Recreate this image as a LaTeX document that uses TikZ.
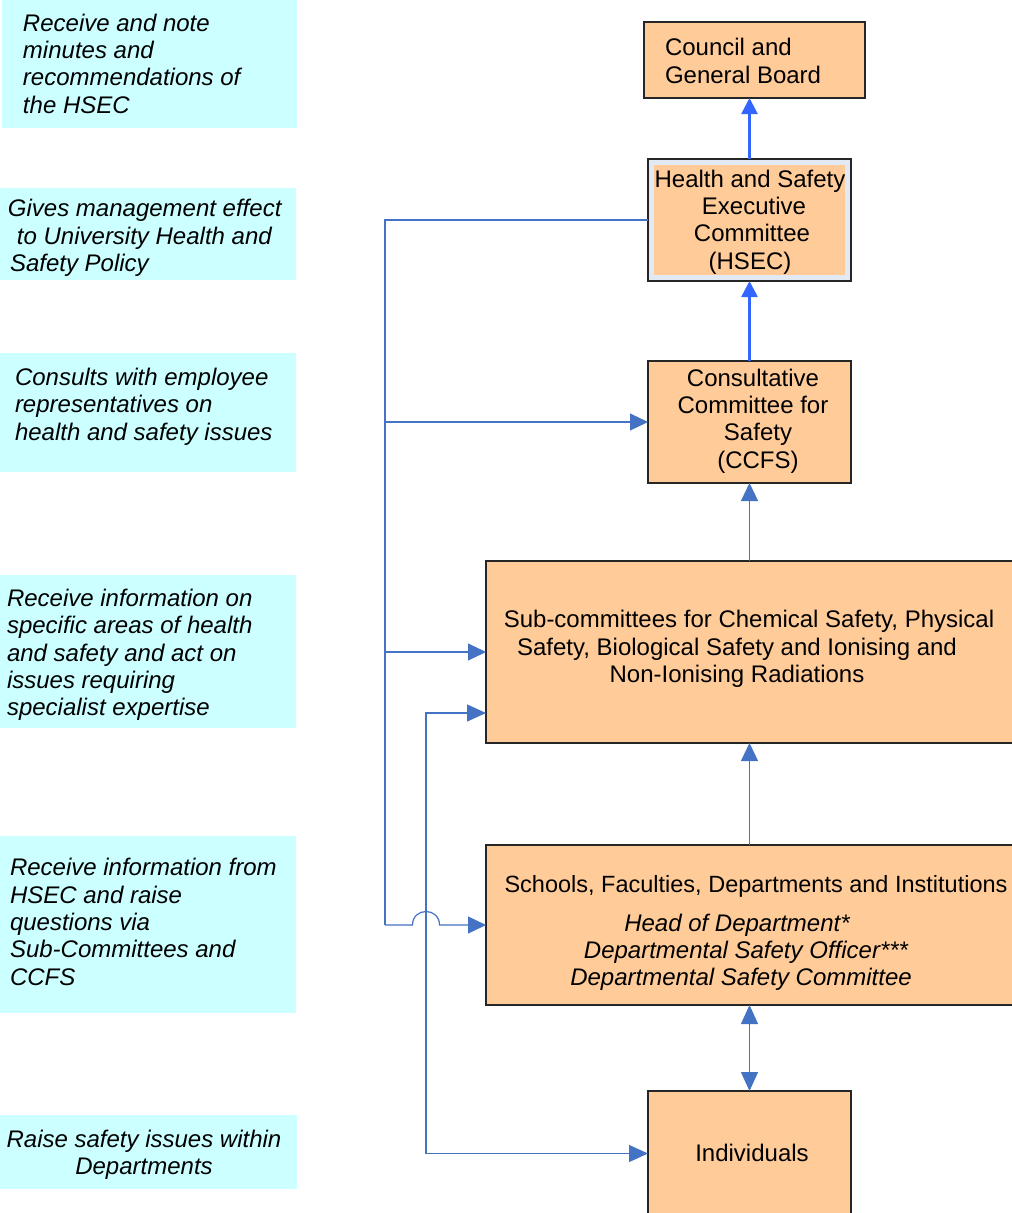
\documentclass[tikz,border=0pt]{standalone}
\usepackage{fontspec}
\setmainfont{Liberation Sans}
\usetikzlibrary{arrows.meta}
\definecolor{orangebox}{HTML}{FFCC99}
\definecolor{cyanbox}{HTML}{CCFFFF}
\definecolor{thickblue}{HTML}{3366FF}
\definecolor{thinblue}{HTML}{4472C4}
\definecolor{framegray}{HTML}{E3E9F3}
\begin{document}
\begin{tikzpicture}[x=1pt,y=-1pt,
  every node/.style={inner sep=0pt, outer sep=0pt},
  cbox/.style={fill=cyanbox, draw=none},
  obox/.style={fill=orangebox, draw=black!85, line width=1.1pt},
  note/.style={font=\fontsize{24}{27.3}\selectfont\itshape, align=left, anchor=west},
  otext/.style={font=\fontsize{24}{27.3}\selectfont, align=center},
  thickarrow/.style={draw=thickblue, line width=2.6pt, -{Triangle[length=16pt,width=16pt]}},
  thinarrow/.style={draw=thinblue, line width=1.2pt, -{Triangle[length=18pt,width=17pt]}},
  thinboth/.style={draw=thinblue, line width=1.2pt, {Triangle[length=19pt,width=17pt]}-{Triangle[length=19pt,width=17pt]}},
  busline/.style={draw=thinblue, line width=1.2pt}]
\useasboundingbox (0,0) rectangle (1012,1213);

% left note boxes
\node[cbox, minimum width=295pt, minimum height=128pt] (n1) at (149.5,64) {};
\node[cbox, minimum width=296pt, minimum height=92pt] (n2) at (148,234) {};
\node[cbox, minimum width=296pt, minimum height=119pt] (n3) at (148,412.5) {};
\node[cbox, minimum width=296pt, minimum height=153pt] (n4) at (148,651.5) {};
\node[cbox, minimum width=296pt, minimum height=177pt] (n5) at (148,924.5) {};
\node[cbox, minimum width=297pt, minimum height=74pt] (n6) at (148.5,1152) {};

\node[note] (t1) at (23,63.5) {Receive and note\\minutes and\\recommendations of\\the HSEC};
\node[note] (t2) at (8,238) {Gives management effect\\\hspace*{9pt}to University Health and\\\hspace*{2pt}Safety Policy};
\node[note] (t3) at (15,406.5) {Consults with employee\\representatives on\\health and safety issues};
\node[note] (t4) at (7,655) {Receive information on\\specific areas of health\\and safety and act on\\issues requiring\\specialist expertise};
\node[note] (t5) at (10,922) {Receive information from\\HSEC and raise\\questions via\\Sub-Committees and\\CCFS};
\node[note, anchor=center, align=center] (t6) at (144,1155) {Raise safety issues within\\Departments};

% right boxes
\node[obox, minimum width=221pt, minimum height=76pt] (council) at (754.5,60) {};
\node[fill=framegray, draw=black!85, line width=1.1pt, minimum width=203pt, minimum height=122pt] (hsec) at (749.5,220) {};
\node[fill=orangebox, minimum width=191pt, minimum height=110pt] (hsecin) at (749.5,220) {};
\node[obox, minimum width=203pt, minimum height=122pt] (ccfs) at (749.5,422) {};
\node[obox, minimum width=528pt, minimum height=182pt] (sub) at (750,652) {};
\node[obox, minimum width=528pt, minimum height=160pt] (schools) at (750,925) {};
\node[obox, minimum width=203pt, minimum height=125pt] (ind) at (749.5,1153.5) {};

\node[otext, anchor=west, align=left] (tcouncil) at (665,61) {Council and\\General Board};
\node[otext] (thsec) at (750,222) {Health and Safety\\\hspace*{8pt}Executive\\\hspace*{4pt}Committee\\(HSEC)};
\node[otext] (tccfs) at (753,421) {Consultative\\Committee for\\\hspace*{10pt}Safety\\\hspace*{10pt}(CCFS)};
\node[otext] (tsub) at (749,649) {Sub-committees for Chemical Safety, Physical\\Safety, Biological Safety and Ionising and\rule{24pt}{0pt}\\Non-Ionising Radiations\rule{24pt}{0pt}};
\node[otext] (tschools) at (756,933) {{\fontsize{23.5}{27.3}\selectfont Schools, Faculties, Departments and Institutions}\\[12pt]{\itshape Head of Department*}\rule{38pt}{0pt}\\{\itshape Departmental Safety Officer***}\rule{20pt}{0pt}\\{\itshape Departmental Safety Committee}\rule{30pt}{0pt}};
\node[otext] (tind) at (752,1153) {Individuals};

% vertical connectors
\draw[thickarrow] (hsec.north) -- (hsec.north |- council.south);
\draw[thickarrow] (ccfs.north) -- (hsec.south);
\draw[thinarrow] (ccfs.south |- sub.north) -- (ccfs.south);
\draw[thinarrow] (ccfs.south |- schools.north) -- (ccfs.south |- sub.south);
\draw[thinboth] (ind.north |- schools.south) -- (ind.north);

% left bus
\coordinate (busb) at (385,925);
\draw[busline] (hsec.west) -| (busb);
\draw[thinarrow] (busb |- ccfs.west) -- (ccfs.west);
\draw[thinarrow] (busb |- sub.west) -- (sub.west);
\coordinate (jl) at (412.5,925);
\coordinate (jr) at (439.5,925);
\draw[thinarrow] (busb) -- (jl) .. controls (412.5,907) and (439.5,907) .. (jr) -- (schools.west);

% individuals to sub-committees
\coordinate (j) at (426,713);
\draw[thinboth] (sub.west |- j) -- (j) |- (ind.west);
\end{tikzpicture}
\end{document}
